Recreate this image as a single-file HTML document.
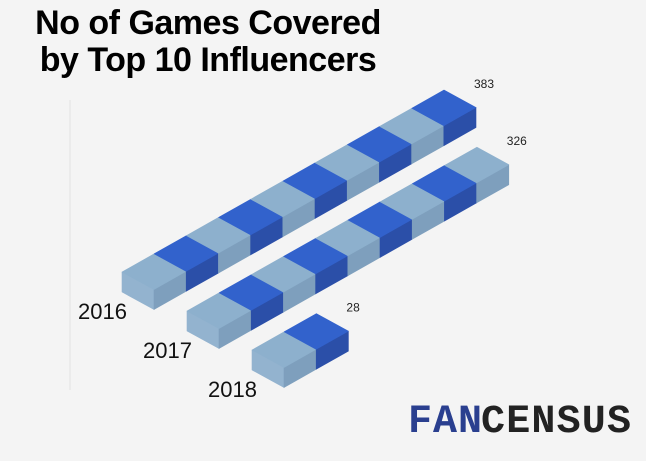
<!DOCTYPE html>
<html><head><meta charset="utf-8"><style>
body{margin:0;background:#f4f4f4;}
svg{display:block;font-family:"Liberation Sans",sans-serif;}
</style></head><body>
<svg width="646" height="461" viewBox="0 0 646 461">
<rect width="646" height="461" fill="#f4f4f4"/>
<text x="208" y="34" text-anchor="middle" font-size="34" font-weight="bold" fill="#000" letter-spacing="-0.5">No of Games Covered</text>
<text x="208" y="71" text-anchor="middle" font-size="34" font-weight="bold" fill="#000" letter-spacing="-0.5">by Top 10 Influencers</text>
<line x1="70" y1="100" x2="70" y2="390" stroke="#e2e2e2" stroke-width="1"/>
<g id="bars"></g>
<g>
<text x="408" y="432" font-size="40" font-weight="bold" fill="#2a3f8f" letter-spacing="1" font-family="Liberation Mono, monospace">FAN</text>
<text x="481" y="432" font-size="40" font-weight="bold" fill="#222" letter-spacing="1" font-family="Liberation Mono, monospace" textLength="151">CENSUS</text>
</g>
</svg>
<script>
const categories = ["2016", "2017", "2018"];
const values = [383, 326, 28];
const valueLabels = ["383", "326", "28"];

const NS = "http://www.w3.org/2000/svg";
const g = document.getElementById("bars");
const SEG = [32.2, -18.2], DEP = [32, 17.5], H = 20;
function origin(i){ return [122 + i*65, 272 + i*39]; }
function segCount(v){ return Math.max(2, Math.round(v/38.3)); }
const light = {top:"#8db0cd", side:"#7e9fbd", end:"#93b3cf"};
const dark = {top:"#3262cc", side:"#2b4fa8", end:"#3560c8"};
function poly(pts, fill, name){
  const p = document.createElementNS(NS, "polygon");
  p.setAttribute("points", pts.map(q=>q[0].toFixed(1)+","+q[1].toFixed(1)).join(" "));
  p.setAttribute("fill", fill);
  p.setAttribute("stroke", fill);
  p.setAttribute("stroke-width", "0.6");
  p.setAttribute("stroke-linejoin", "round");
  
  
  g.appendChild(p);
}
function add(a,b,k){ return [a[0]+b[0]*k, a[1]+b[1]*k]; }
categories.forEach((cat, ci) => {
  const o = origin(ci);
  const n = segCount(values[ci]);
  for (let s = 0; s < n; s++) {
    const c = s % 2 === 0 ? light : dark;
    const P = add(o, SEG, s), P2 = add(o, SEG, s+1);
    const F = add(P, DEP, 1), F2 = add(P2, DEP, 1);
    if (s === 0) poly([P, F, [F[0],F[1]+H], [P[0],P[1]+H]], c.end, "bar-end-" + cat);
    poly([F, F2, [F2[0],F2[1]+H], [F[0],F[1]+H]], c.side, "bar-side-" + cat + "-" + s);
    poly([P, P2, F2, F], c.top, "bar-top-" + cat + "-" + s);
  }
  const back = add(o, SEG, n);
  const vt = document.createElementNS(NS, "text");
  vt.setAttribute("x", back[0] + 30);
  vt.setAttribute("y", back[1] - 2);
  vt.setAttribute("font-size", "12");
  vt.setAttribute("fill", "#222");
  vt.textContent = valueLabels[ci];
  
  
  g.appendChild(vt);
  const ct = document.createElementNS(NS, "text");
  ct.setAttribute("x", o[0] - 44);
  ct.setAttribute("y", o[1] + 47);
  ct.setAttribute("font-size", "22");
  ct.setAttribute("fill", "#111");
  ct.textContent = cat;
  
  
  g.appendChild(ct);
});
</script>
</body></html>
